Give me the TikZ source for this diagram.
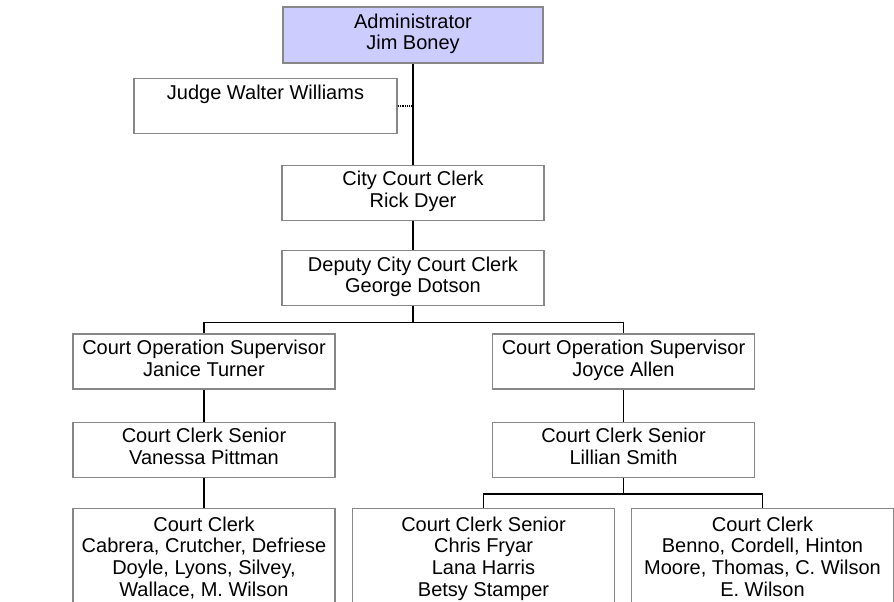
\documentclass[tikz,border=0pt]{standalone}
\usepackage{fontspec}
\setmainfont{Liberation Sans}
\usetikzlibrary{positioning}

\definecolor{headfill}{RGB}{204,204,255}
\definecolor{boxline}{RGB}{135,135,135}

\begin{document}
\begin{tikzpicture}[
  x=1pt, y=-1pt,
  box/.style={rectangle, draw=boxline, line width=1.3pt, fill=white,
    minimum width=262pt, minimum height=55pt, align=center, inner sep=0pt,
    font=\fontsize{20}{21.7}\selectfont,
    execute at begin node=\strut, execute at end node=\strut},
  bigbox/.style={box, minimum height=102pt},
  link/.style={draw=black, line width=1.4pt}
]
  \clip (0,0) rectangle (894,602);

  \node[box, fill=headfill, minimum width=260pt, minimum height=56pt] (admin) at (413,35) {Administrator\\Jim Boney};
  \node[box, minimum width=263pt] (judge) at (265.5,106) {Judge Walter Williams\\~};
  \node[box, below=101pt of admin] (cityclerk) {City Court Clerk\\Rick Dyer};
  \node[box, below=29pt of cityclerk] (deputy) {Deputy City Court Clerk\\George Dotson};

  \node[box] (supleft) at (204,361.5) {Court Operation Supervisor\\Janice Turner};
  \node[box] (supright) at (623.5,361.5) {Court Operation Supervisor\\Joyce Allen};
  \node[box, below=32pt of supleft] (seniorleft) {Court Clerk Senior\\Vanessa Pittman};
  \node[box, below=32pt of supright] (seniorright) {Court Clerk Senior\\Lillian Smith};

  \node[bigbox, below=30pt of seniorleft] (clerksleft) {Court Clerk\\Cabrera, Crutcher, Defriese\\Doyle, Lyons, Silvey,\\Wallace, M. Wilson};
  \node[bigbox, below=30pt of seniorright, xshift=-140pt] (seniormid) {Court Clerk Senior\\Chris Fryar\\Lana Harris\\Betsy Stamper};
  \node[bigbox, below=30pt of seniorright, xshift=139pt] (clerksright) {Court Clerk\\Benno, Cordell, Hinton\\Moore, Thomas, C. Wilson\\E. Wilson};

  % reporting lines
  \draw[link] (admin) -- (cityclerk);
  \coordinate (judgejoin) at (admin.south |- judge.east);
  \draw[densely dotted, line width=1.3pt] (judge.east) -- (judgejoin);
  \draw[link] (cityclerk) -- (deputy);

  \draw[link] (deputy.south) -- ++(0,16) coordinate (fork);
  \draw[link] (fork) -| (supleft.north);
  \draw[link] (fork) -| (supright.north);
  \draw[link] (supleft) -- (seniorleft);
  \draw[link] (supright) -- (seniorright);
  \draw[link] (seniorleft) -- (clerksleft);

  \draw[link] (seniorright.south) -- ++(0,16) coordinate (subfork);
  \draw[link] (subfork) -| (seniormid.north);
  \draw[link] (subfork) -| (clerksright.north);
\end{tikzpicture}
\end{document}
